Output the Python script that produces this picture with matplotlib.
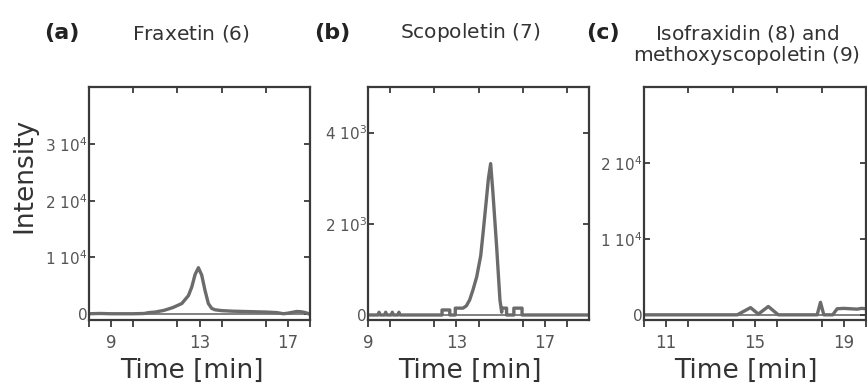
import matplotlib
matplotlib.use("Agg")
import matplotlib.pyplot as plt
from matplotlib.ticker import FixedLocator, FixedFormatter, MultipleLocator, NullFormatter

# ---- data ----
t_a = [8.0, 8.5, 9.0, 9.5, 10.0, 10.5, 10.7, 11.0, 11.4, 11.8, 12.2, 12.5, 12.65, 12.8,
       12.95, 13.1, 13.25, 13.4, 13.55, 13.7, 14.0, 14.5, 15.0, 15.5, 16.0, 16.5, 16.8,
       17.0, 17.2, 17.4, 17.6, 17.8, 18.0]
y_a = [100, 150, 100, 100, 100, 150, 300, 400, 700, 1200, 1900, 3300, 4800, 7000,
       8200, 6900, 4200, 1900, 1050, 800, 650, 550, 500, 450, 400, 300, 100,
       200, 350, 500, 450, 300, 0]

t_b = [9.0, 9.45, 9.5, 9.55, 9.75, 9.8, 9.85, 10.05, 10.1, 10.15, 10.35, 10.4, 10.45,
       12.0, 12.35, 12.35, 12.7, 12.7, 12.95, 12.95, 13.2, 13.3, 13.45, 13.6, 13.75,
       13.92, 14.1, 14.22, 14.35, 14.45, 14.55, 14.65, 14.82, 14.97, 15.05, 15.05, 15.27,
       15.27, 15.6, 15.6, 15.97, 15.97, 17.0, 19.0]
y_b = [0, 0, 60, 0, 0, 60, 0, 0, 60, 0, 0, 60, 0,
       0, 0, 110, 110, 0, 0, 150, 150, 150, 200, 330, 550,
       840, 1300, 1860, 2500, 3000, 3320, 2700, 1500, 330, 60, 150, 150,
       0, 0, 150, 150, 0, 0, 0]

t_c = [10.0, 11.0, 12.0, 13.0, 14.2, 14.8, 15.15, 15.6, 16.05, 17.0, 17.8, 17.95,
       18.1, 18.5, 18.7, 19.0, 19.3, 19.6, 19.8, 20.0]
y_c = [0, 0, 0, 0, 0, 950, 100, 1100, 0, 0, 0, 1650,
       0, 0, 800, 850, 800, 750, 850, 800]

panel_letters = ["(a)", "(b)", "(c)"]
titles = ["Fraxetin ($\\mathit{6}$)", "Scopoletin ($\\mathit{7}$)",
          "Isofraxidin ($\\mathit{8}$) and\nmethoxyscopoletin ($\\mathit{9}$)"]
x_limits = [(8, 18), (9, 19), (10, 20)]
x_major = [[9, 13, 17], [9, 13, 17], [11, 15, 19]]
y_limits = [(-1000, 40000), (-110, 5000), (-680, 30000)]
y_ticks = [[0, 10000, 20000, 30000], [0, 2000, 4000], [0, 10000, 20000]]
y_ticklabels = [["0", "1 10$^4$", "2 10$^4$", "3 10$^4$"],
                ["0", "2 10$^3$", "4 10$^3$"],
                ["0", "1 10$^4$", "2 10$^4$"]]

W, H = 867, 385
fig = plt.figure(figsize=(W / 100, H / 100), dpi=100)

axes_px = [(89, 310), (368, 589), (644, 866)]
top_px, bot_px = 87, 320
line_col = "#6b6b6b"
spine_col = "#3a3a3a"
text_col = "#333333"
tick_col = "#555555"

series = [(t_a, y_a), (t_b, y_b), (t_c, y_c)]
for i, (l, r) in enumerate(axes_px):
    ax = fig.add_axes([l / W, 1 - bot_px / H, (r - l) / W, (bot_px - top_px) / H])
    t, y = series[i]
    ax.axhline(0, color=line_col, lw=1.2, zorder=1)
    ax.plot(t, y, color=line_col, lw=2.4, solid_joinstyle="round", zorder=2)
    ax.set_xlim(*x_limits[i])
    ax.set_ylim(*y_limits[i])
    for s in ax.spines.values():
        s.set_color(spine_col)
        s.set_linewidth(1.6)
    ax.xaxis.set_major_locator(FixedLocator(x_major[i]))
    ax.xaxis.set_minor_locator(MultipleLocator(2))
    ax.yaxis.set_major_locator(FixedLocator(y_ticks[i]))
    ax.yaxis.set_major_formatter(FixedFormatter(y_ticklabels[i]))
    ax.tick_params(axis="x", which="both", direction="out", length=5, width=1.3,
                   color=spine_col, top=False, labelsize=12, labelcolor=tick_col, pad=5)
    ax.tick_params(axis="y", which="both", direction="in", length=4, width=1.3,
                   color=spine_col, right=True, labelsize=11, labelcolor=tick_col, pad=1)
    # inward ticks along the top edge
    tw = ax.twiny()
    tw.set_xlim(*x_limits[i])
    tw.xaxis.set_major_locator(MultipleLocator(2))
    tw.xaxis.set_major_formatter(NullFormatter())
    tw.tick_params(axis="x", direction="in", length=4, width=1.3, color=spine_col)
    for s in tw.spines.values():
        s.set_visible(False)

    cx = [192, 470, 746][i]
    fig.text(cx / W, 1 - 371 / H, "Time [min]", ha="center", va="center",
             fontsize=19, color=text_col)

letter_x = [62, 332, 603]
title_x = [191, 470, 747]
for i in range(3):
    fig.text(letter_x[i] / W, 1 - 33 / H, panel_letters[i], ha="center", va="center",
             fontsize=16, fontweight="bold", color="#222222")
    if i < 2:
        fig.text(title_x[i] / W, 1 - 33 / H, titles[i], ha="center", va="center",
                 fontsize=14.5, color=text_col)
    else:
        fig.text(title_x[i] / W, 1 - 45 / H, titles[i], ha="center", va="center",
                 fontsize=14.5, color=text_col, linespacing=1.05)

fig.text(24 / W, 1 - 175 / H, "Intensity", rotation=90, ha="center", va="center",
         fontsize=19, color=text_col)

fig.savefig("out.png", dpi=100)
